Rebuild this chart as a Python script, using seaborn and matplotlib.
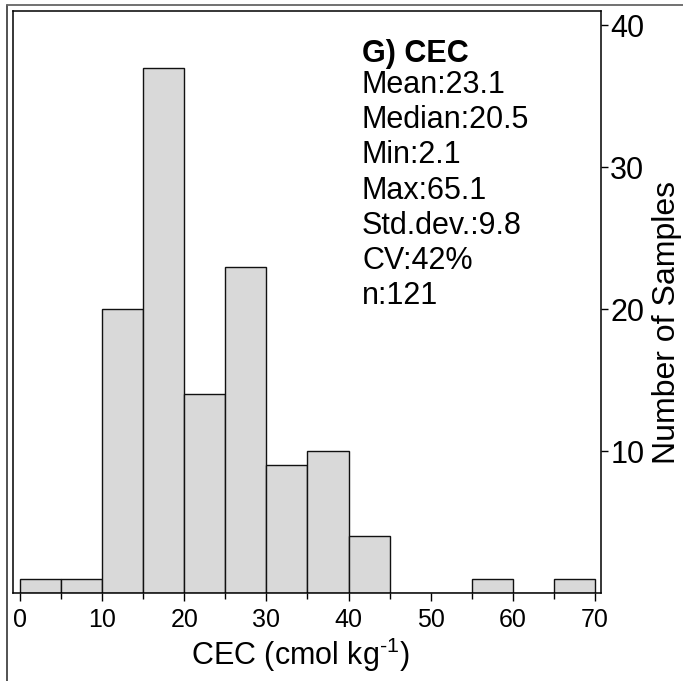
import numpy as np
import pandas as pd
import matplotlib
matplotlib.use("Agg")
import matplotlib.pyplot as plt
from matplotlib.lines import Line2D
import seaborn as sns

# Histogram of CEC values, 5 cmol/kg bins
bin_edges = [0, 5, 10, 15, 20, 25, 30, 35, 40, 45, 50, 55, 60, 65, 70]
bin_counts = [1, 1, 20, 37, 14, 23, 9, 10, 4, 0, 0, 1, 0, 1]
x_ticks = [0, 10, 20, 30, 40, 50, 60, 70]
y_ticks = [10, 20, 30, 40]
stats_title = "G) CEC"
stats_lines = ["Mean:23.1", "Median:20.5", "Min:2.1", "Max:65.1",
               "Std.dev.:9.8", "CV:42%", "n:121"]

sns.set_style("white")
plt.rcParams["font.family"] = ["Liberation Sans", "DejaVu Sans"]
plt.rcParams["text.color"] = "black"
plt.rcParams["axes.labelcolor"] = "black"
plt.rcParams["xtick.color"] = "black"
plt.rcParams["ytick.color"] = "black"
plt.rcParams["mathtext.fontset"] = "custom"
plt.rcParams["mathtext.rm"] = "Liberation Sans"
plt.rcParams["mathtext.default"] = "regular"

W, H = 683, 681
fig = plt.figure(figsize=(W / 100, H / 100), dpi=100)
ax = fig.add_axes([13 / W, 1 - 593 / H, (600.5 - 13) / W, (593 - 11) / H])

centers = [(a + b) / 2 for a, b in zip(bin_edges[:-1], bin_edges[1:])]
df = pd.DataFrame({"CEC": centers, "count": bin_counts})
sns.histplot(data=df, x="CEC", weights="count", bins=bin_edges, ax=ax,
             color="#d9d9d9", alpha=1, edgecolor="#111111", linewidth=1.0)

ax.set_xlim(-0.85, 70.67)
ax.set_ylim(0, 41.0)

for side in ["top", "bottom", "left", "right"]:
    ax.spines[side].set_visible(True)
    ax.spines[side].set_color("black")
    ax.spines[side].set_linewidth(1.1)

ax.set_xticks(x_ticks)
ax.set_xticks(bin_edges, minor=True)
ax.tick_params(axis="x", which="major", direction="out", length=6, width=1,
               labelsize=18, pad=5, bottom=True)
ax.tick_params(axis="x", which="minor", direction="out", length=4, width=1,
               bottom=True)

ax.yaxis.tick_right()
ax.yaxis.set_label_position("right")
ax.set_yticks(y_ticks)
ax.tick_params(axis="y", which="major", direction="out", length=5, width=1,
               labelsize=22, pad=2, right=True, left=False)

ax.set_xlabel("CEC (cmol kg$^{\\text{-1}}$)", fontsize=22)
ax.xaxis.set_label_coords((300 - 13) / 587.5, (593 - 636) / 582)
ax.set_ylabel("Number of Samples", fontsize=23)
ax.yaxis.set_label_coords((652 - 13) / 587.5, (593 - 323) / 582)

# Summary statistics block
def ax_frac(py):
    return (593 - py) / 582

tx = (362 - 13) / 587.5
ax.text(tx, ax_frac(62), stats_title, transform=ax.transAxes, fontsize=22,
        fontweight="bold", va="baseline", ha="left")
for i, line in enumerate(stats_lines):
    ax.text(tx, ax_frac(93 + 35.2 * i), line, transform=ax.transAxes,
            fontsize=22, va="baseline", ha="left")

# Outer panel frame
fig.add_artist(Line2D([7 / W, 7 / W], [0, 1 - 5 / H], transform=fig.transFigure,
                      color="#444444", lw=1.3))
fig.add_artist(Line2D([7 / W, 1], [1 - 5 / H, 1 - 5 / H], transform=fig.transFigure,
                      color="#666666", lw=1.3))

fig.savefig("out.png", dpi=100)
